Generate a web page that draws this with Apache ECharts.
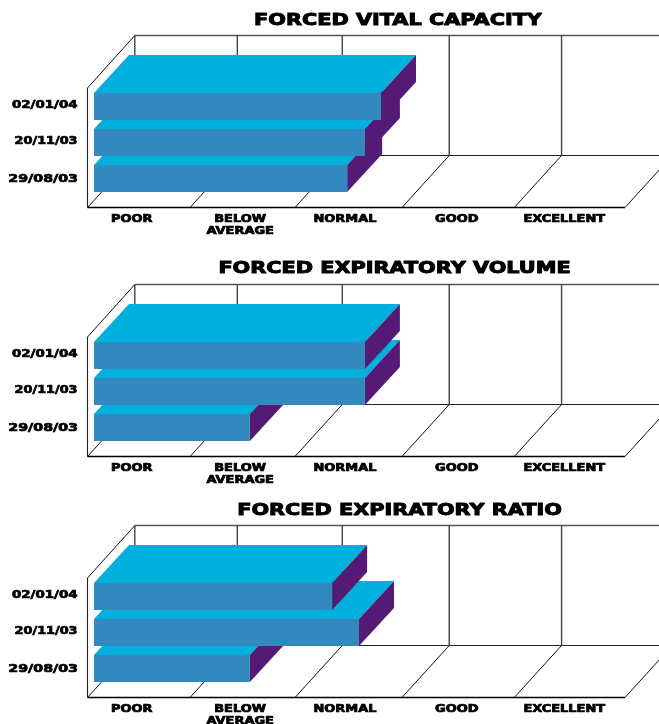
<!DOCTYPE html>
<html>
<head>
<meta charset="utf-8">
<style>html,body{margin:0;padding:0;background:#fff}#c{width:659px;height:724px}</style>
<script src="https://cdn.jsdelivr.net/npm/echarts@6/dist/echarts.min.js"></script>
</head>
<body>
<div id="c"></div>
<script>
// Lung function results per test date, on a 0-100 rating scale.
const dates = ['02/01/04', '20/11/03', '29/08/03'];
const titles = ['FORCED VITAL CAPACITY', 'FORCED EXPIRATORY VOLUME', 'FORCED EXPIRATORY RATIO'];
const vitalCapacity = [53.4, 50.4, 47.1];
const expiratoryVolume = [50.4, 50.4, 29.0];
const expiratoryRatio = [44.3, 49.3, 29.0];
const panelValues = [vitalCapacity, expiratoryVolume, expiratoryRatio];

// Rating bands: edges on the scale, and where each band's caption sits.
const bandEdges = [0, 19.07, 38.6, 58.5, 79.4, 100];
const ratingLabels = [['POOR'], ['BELOW', 'AVERAGE'], ['NORMAL'], ['GOOD'], ['EXCELLENT']];
const ratingLabelValues = [8.24, 28.4, 47.9, 68.7, 88.7];

// Layout and look of the pseudo-3D frame.
const GRID_TOPS = [88.5, 337.5, 578.5];
const TITLE_X = [398, 394.5, 399.5];
const TITLE_Y_ABOVE_FLOOR = [187, 188, 187];
const DATE_SCALE = [1.26, 1.21, 1.34];
const DATE_RIGHT = [77.5, 77.5, 78];
const FLOOR_GAP = 11, FRAME_DX = 47.3, FRAME_DY = 52, WALL_H = 120;
const BAR_INSET = 6.5, BAR_DX = 35, BAR_DY = 38;
const FONT = 'bold {s}px "DejaVu Sans"';
const C_TOP = '#00B0DC', C_FRONT = '#3389BE', C_SIDE = '#551A75';

function txt(text, x, y, size, scale, align, weight) {
  return {
    type: 'text', x: x, y: y, scaleX: scale, z2: 20,
    style: {
      text: text, font: FONT.replace('{s}', size), fill: '#000', stroke: '#000', lineWidth: weight,
      align: align, verticalAlign: 'middle'
    }
  };
}
function seg(x1, y1, x2, y2, color, w) {
  return { type: 'line', shape: { x1: x1, y1: y1, x2: x2, y2: y2 }, style: { stroke: color, lineWidth: w } };
}
function poly(points, fill) {
  return { type: 'polygon', shape: { points: points }, style: { fill: fill } };
}

// Walls, floor, captions and title of one panel.
function renderFrame(panel) {
  return function (params, api) {
    const band = api.size([0, 1])[1];
    const floor = api.coord([0, dates.length - 1])[1] + band / 2 + FLOOR_GAP;
    const backFloor = floor - FRAME_DY, backTop = backFloor - WALL_H, frontTop = floor - WALL_H + 0.5;
    const xs = bandEdges.map(function (e) { return api.coord([e, 0])[0]; });
    const kids = [];
    const right = xs[xs.length - 1];
    // back wall
    kids.push(seg(xs[0] + FRAME_DX, backTop, right + FRAME_DX, backTop, '#555', 1.5));
    kids.push(seg(xs[0] + FRAME_DX, backFloor, right + FRAME_DX, backFloor, '#222', 1.1));
    xs.slice(0, -1).forEach(function (x) {
      kids.push(seg(x + FRAME_DX, backTop, x + FRAME_DX, backFloor, '#444', 1.4));
    });
    // floor diagonals and front edge
    xs.forEach(function (x) {
      kids.push(seg(x, floor, x + FRAME_DX, backFloor, '#111', 1));
    });
    kids.push(seg(xs[0], floor, right, floor, '#000', 1.3));
    // side wall
    kids.push(seg(xs[0], frontTop, xs[0], floor, '#222', 1.1));
    kids.push(seg(xs[0], frontTop, xs[0] + FRAME_DX, backTop, '#111', 1));
    // captions
    ratingLabels.forEach(function (lines, i) {
      const x = api.coord([ratingLabelValues[i], 0])[0];
      lines.forEach(function (line, k) {
        kids.push(txt(line, x, floor + 12 + k * 12, 9.6, 1.35, 'center', 0.7));
      });
    });
    dates.forEach(function (d, i) {
      const y = api.coord([0, i])[1];
      kids.push(txt(d, DATE_RIGHT[i], y + (i === dates.length - 1 ? 1 : -1), 10.6, DATE_SCALE[i], 'right', 0.7));
    });
    kids.push(txt(titles[panel], TITLE_X[panel], floor - TITLE_Y_ABOVE_FLOOR[panel], 16.5, 1.26, 'center', 1));
    return { type: 'group', children: kids };
  };
}

// One extruded bar: top face, side face, then front face.
function renderBar(params, api) {
  const cat = api.value(1);
  const p0 = api.coord([0, cat]), p1 = api.coord([api.value(0), cat]);
  const h = api.size([0, 1])[1] * 0.75;
  const x0 = p0[0] + BAR_INSET, x1 = p1[0] + BAR_INSET;
  const top = p0[1] - h / 2, bottom = p0[1] + h / 2;
  return {
    type: 'group',
    children: [
      poly([[x0, top], [x0 + BAR_DX, top - BAR_DY], [x1 + BAR_DX, top - BAR_DY], [x1, top]], C_TOP),
      poly([[x1, top], [x1 + BAR_DX, top - BAR_DY], [x1 + BAR_DX, bottom - BAR_DY], [x1, bottom]], C_SIDE),
      { type: 'rect', shape: { x: x0, y: top, width: x1 - x0, height: h }, style: { fill: C_FRONT } }
    ]
  };
}

const grid = [], xAxis = [], yAxis = [], series = [];
panelValues.forEach(function (values, p) {
  grid.push({ left: 87.5, width: 537.5, top: GRID_TOPS[p], height: 108 });
  xAxis.push({ type: 'value', gridIndex: p, min: 0, max: 100, show: false });
  yAxis.push({ type: 'category', gridIndex: p, inverse: true, data: dates, show: false });
  series.push({
    type: 'custom', xAxisIndex: p, yAxisIndex: p, data: [[0, 0]], z: 1, clip: false,
    silent: true, animation: false, renderItem: renderFrame(p)
  });
  // The bars stack from the lowest row upward, each one covering the row before it.
  series.push({
    type: 'custom', xAxisIndex: p, yAxisIndex: p, z: 2, clip: false, silent: true, animation: false,
    encode: { x: 0, y: 1 },
    data: values.map(function (v, i) { return [v, i]; }).reverse(),
    renderItem: renderBar
  });
});

const chart = echarts.init(document.getElementById('c'), null, { renderer: 'canvas' });
chart.setOption({ animation: false, backgroundColor: '#fff', grid: grid, xAxis: xAxis, yAxis: yAxis, series: series });
</script>
</body>
</html>
